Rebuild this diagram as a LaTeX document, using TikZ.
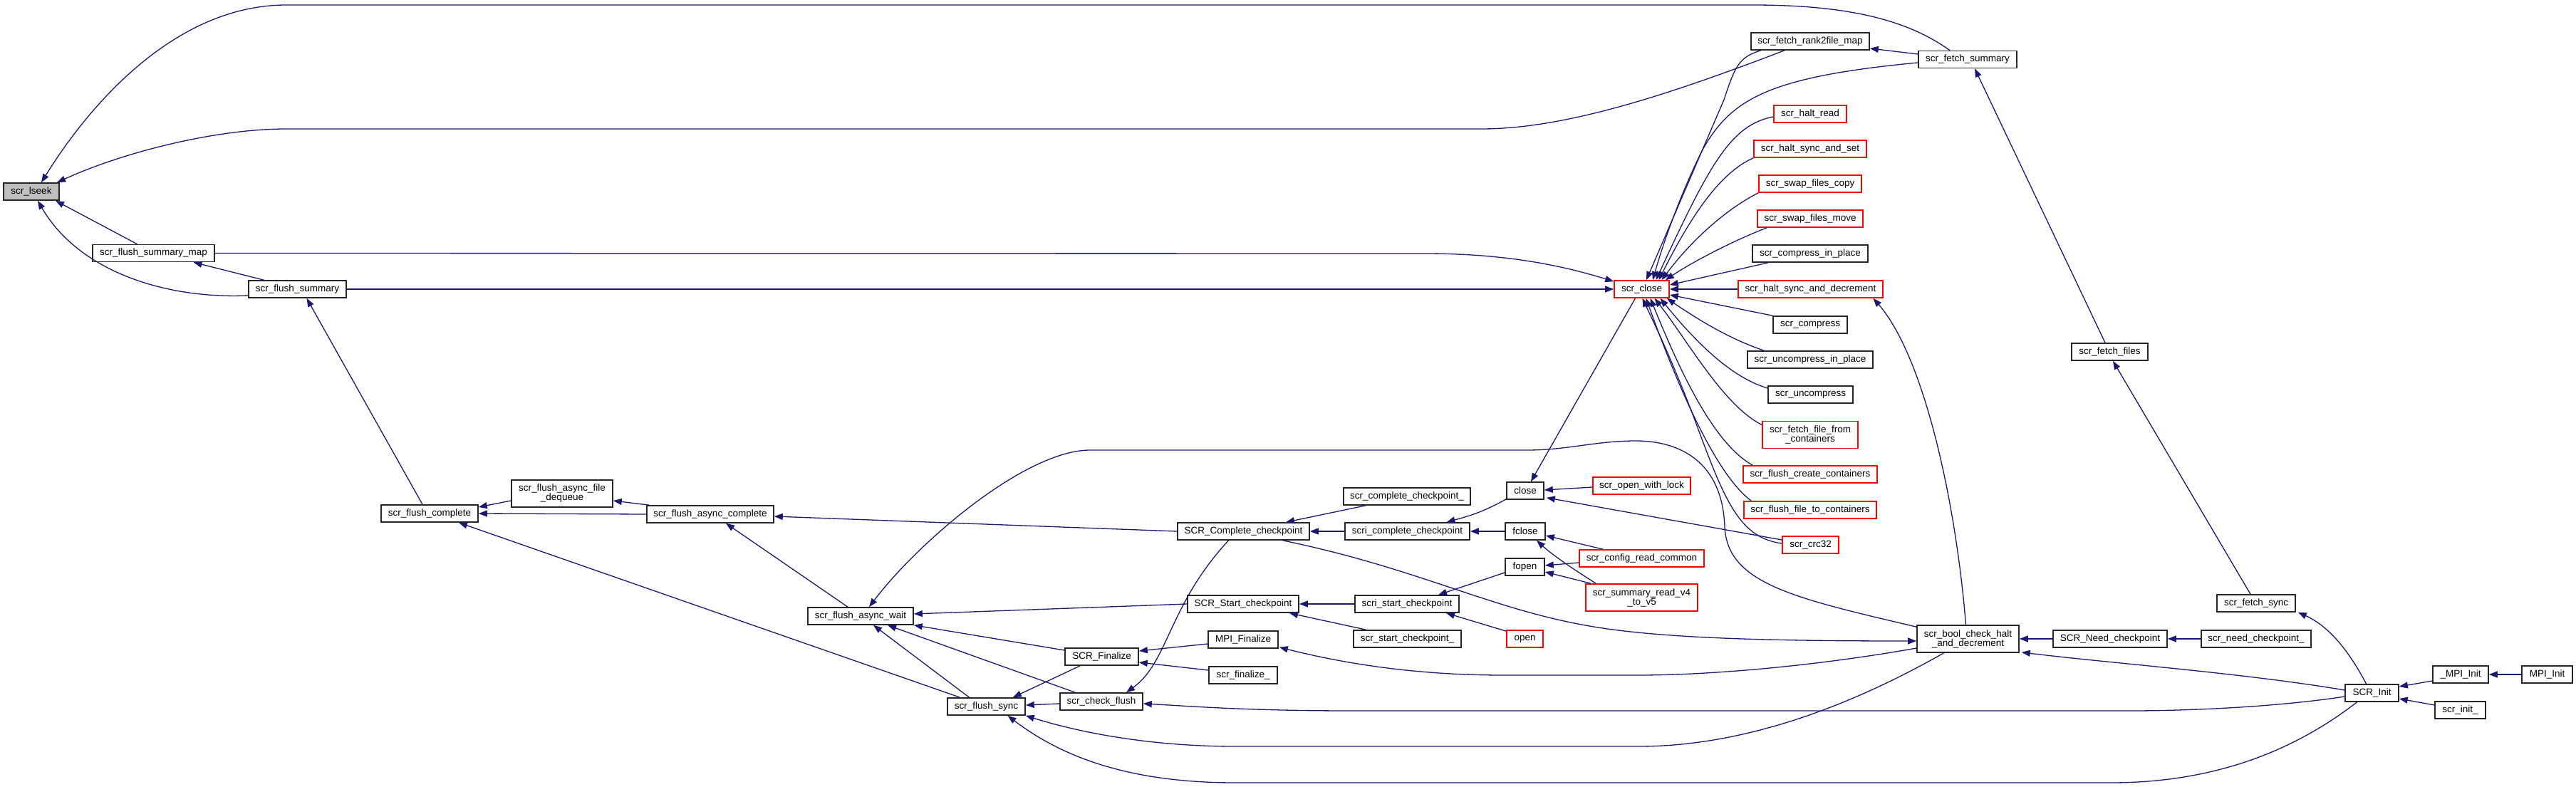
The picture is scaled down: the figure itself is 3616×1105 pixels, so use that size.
\documentclass[tikz,border=0pt]{standalone}
\usepackage{fontspec}
\setmainfont{Liberation Sans}
\usetikzlibrary{arrows.meta,calc}
\definecolor{edgec}{HTML}{191970}
\definecolor{redc}{HTML}{FF0000}
\definecolor{grayfill}{HTML}{BFBFBF}
\tikzset{
  box/.style={draw=black!85,line width=1.6pt,fill=white,minimum height=24pt,inner sep=0pt,align=center,
    font=\fontsize{13.5}{13}\selectfont},
  tall/.style={minimum height=38pt},
  redbox/.style={box,draw=redc},
  e/.style={draw=edgec,line width=1.3pt,-{Triangle[length=12pt,width=9pt]}},
}
\begin{document}
\begin{tikzpicture}[x=1pt,y=-1pt]
\useasboundingbox[fill=white] (0,0) rectangle (3616,1105);
% nodes
\node[box,fill=grayfill,minimum width=78pt] (lseek) at (44,269) {scr\_lseek};
\node[box,minimum width=171pt] (fsmap) at (215.5,355.5) {scr\_flush\_summary\_map};
\node[box,minimum width=137pt] (fsum) at (417.5,406) {scr\_flush\_summary};
\node[box,minimum width=136pt] (fcomp) at (603,721) {scr\_flush\_complete};
\node[box,tall,minimum width=142pt] (deq) at (789,693) {scr\_flush\_async\_file\\\_dequeue};
\node[box,minimum width=178pt] (acomp) at (997,722) {scr\_flush\_async\_complete};
\node[box,minimum width=148pt] (await) at (1208,865) {scr\_flush\_async\_wait};
\node[box,minimum width=109pt] (fsync) at (1384.5,992) {scr\_flush\_sync};
\node[box,minimum width=103pt] (fin) at (1546.5,922) {SCR\_Finalize};
\node[box,minimum width=116pt] (chk) at (1546,985) {scr\_check\_flush};
\node[box,minimum width=185pt] (cc) at (1745.5,746) {SCR\_Complete\_checkpoint};
\node[box,minimum width=156pt] (sc) at (1745,848) {SCR\_Start\_checkpoint};
\node[box,minimum width=98pt] (mpif) at (1745,898) {MPI\_Finalize};
\node[box,minimum width=96pt] (finu) at (1745,948) {scr\_finalize\_};
\node[box,minimum width=178pt] (ccu) at (1975,697) {scr\_complete\_checkpoint\_};
\node[box,minimum width=175pt] (scc) at (1975.5,746) {scri\_complete\_checkpoint};
\node[box,minimum width=146pt] (ssc) at (1975,848) {scri\_start\_checkpoint};
\node[box,minimum width=151pt] (scu) at (1975.5,897) {scr\_start\_checkpoint\_};
\node[box,minimum width=52pt] (close) at (2141,689) {close};
\node[box,minimum width=56pt] (fclose) at (2141,746) {fclose};
\node[box,minimum width=55pt] (fopen) at (2140.5,796) {fopen};
\node[redbox,minimum width=51pt] (open) at (2140.5,897) {open};
\node[redbox,minimum width=77pt] (sclose) at (2304.5,406) {scr\_close};
\node[redbox,minimum width=137pt] (owl) at (2304.5,682) {scr\_open\_with\_lock};
\node[redbox,minimum width=175pt] (crc) at (2304.5,784) {scr\_config\_read\_common};
\node[redbox,tall,minimum width=157pt] (srv) at (2304.5,839) {scr\_summary\_read\_v4\\\_to\_v5};
\node[box,minimum width=166pt] (r2f) at (2541,58) {scr\_fetch\_rank2file\_map};
\node[box,minimum width=138pt] (fsumm) at (2762,83.5) {scr\_fetch\_summary};
\node[redbox,minimum width=102pt] (hr) at (2541,160) {scr\_halt\_read};
\node[redbox,minimum width=158pt] (hss) at (2541,209) {scr\_halt\_sync\_and\_set};
\node[redbox,minimum width=144pt] (sfc) at (2541,258) {scr\_swap\_files\_copy};
\node[redbox,minimum width=148pt] (sfm) at (2541,307) {scr\_swap\_files\_move};
\node[box,minimum width=162pt] (cip) at (2541,356) {scr\_compress\_in\_place};
\node[redbox,minimum width=203pt] (hsd) at (2541.5,406) {scr\_halt\_sync\_and\_decrement};
\node[box,minimum width=104pt] (cmp) at (2541,456) {scr\_compress};
\node[box,minimum width=176pt] (uip) at (2541,505) {scr\_uncompress\_in\_place};
\node[box,minimum width=119pt] (unc) at (2541.5,554) {scr\_uncompress};
\node[redbox,tall,minimum width=134pt] (ffc) at (2541,610.5) {scr\_fetch\_file\_from\\\_containers};
\node[redbox,minimum width=188pt] (fcc) at (2541,666) {scr\_flush\_create\_containers};
\node[redbox,minimum width=186pt] (ftc) at (2541,716) {scr\_flush\_file\_to\_containers};
\node[redbox,minimum width=79pt] (c32) at (2541.5,765) {scr\_crc32};
\node[box,tall,minimum width=143pt] (bchk) at (2762.5,897) {scr\_bool\_check\_halt\\\_and\_decrement};
\node[box,minimum width=160pt] (need) at (2962,897) {SCR\_Need\_checkpoint};
\node[box,minimum width=154pt] (needu) at (3167,897) {scr\_need\_checkpoint\_};
\node[box,minimum width=107pt] (ffiles) at (2961.5,494) {scr\_fetch\_files};
\node[box,minimum width=110pt] (fsync2) at (3167,847) {scr\_fetch\_sync};
\node[box,minimum width=75pt] (init) at (3329.5,973) {SCR\_Init};
\node[box,minimum width=78pt] (mpiiu) at (3454,947) {\_MPI\_Init};
\node[box,minimum width=71pt] (mpii) at (3575.5,947) {MPI\_Init};
\node[box,minimum width=71pt] (initu) at (3453.5,997) {scr\_init\_};
% edges
\draw[e] ($(fsumm.north)+(-25,0)$) .. controls (2680,30) and (2600,7) .. (2460,7) -- (402,7) .. controls (250,7) and (130,140) .. ($(lseek.north)+(14,0)$);
\draw[e] ($(r2f.south)+(-36,0)$) .. controls (2350,130) and (2200,181) .. (2080,181) -- (402,181) .. controls (300,181) and (170,215) .. ($(lseek.north)+(36,0)$);
\draw[e] ($(fsmap.north)+(-23,0)$) -- ($(lseek.south)+(34,0)$);
\draw[e] ($(fsum.west)+(0,9)$) .. controls (230,420) and (110,380) .. ($(lseek.south)+(9,0)$);
\draw[e] ($(fsum.north)+(-47,0)$) -- ($(fsmap.south)+(56,0)$);
\draw[e] (fsmap.east) -- (2000,356) .. controls (2120,356) and (2200,375) .. ($(sclose.north west)+(0,2)$);
\draw[e] (fsum.east) -- (sclose.west);
\draw[e] ($(fcomp.north)+(-10,0)$) -- ($(fsum.south)+(13,0)$);
\draw[e] ($(deq.west)+(0,10)$) -- ($(fcomp.east)+(0,-9)$);
\draw[e] (acomp.west) -- (fcomp.east);
\draw[e] ($(fsync.north)+(-37,0)$) -- ($(fcomp.south)+(41,0)$);
\draw[e] ($(acomp.north west)+(4,0)$) -- ($(deq.east)+(0,10)$);
\draw[e] (cc.west) -- ($(acomp.east)+(0,3)$);
\draw[e] ($(await.north)+(-18,0)$) -- ($(acomp.south)+(22,0)$);
\draw[e] ($(bchk.north west)+(0,3)$) .. controls (2520,840) and (2425,820) .. (2421,740) .. controls (2418,650) and (2360,619) .. (2296,619) .. controls (2240,619) and (2200,632) .. (2144,632) -- (1530,632) .. controls (1440,632) and (1290,760) .. ($(await.north)+(12,0)$);
\draw[e] (sc.west) -- ($(await.east)+(0,-3)$);
\draw[e] ($(fin.west)+(0,-9)$) -- (await.south east);
\draw[e] ($(chk.north west)+(22,0)$) -- ($(await.south)+(38,0)$);
\draw[e] ($(fsync.north)+(-24,0)$) -- ($(await.south)+(18,0)$);
\draw[e] ($(fin.south west)+(22,0)$) -- ($(fsync.north east)+(-18,0)$);
\draw[e] ($(chk.west)+(0,3)$) -- ($(fsync.east)+(0,-2)$);
\draw[e] ($(bchk.south)+(-34,0)$) .. controls (2600,990) and (2450,1048) .. (2300,1048) -- (1734,1048) .. controls (1620,1048) and (1520,1030) .. (fsync.south east);
\draw[e] ($(init.west)+(0,5)$) .. controls (3200,992) and (3080,998) .. (2989,998) -- (1900,998) .. controls (1750,998) and (1680,992) .. ($(chk.east)+(0,3)$);
\draw[e] ($(cc.south)+(-21,0)$) .. controls (1640,850) and (1640,930) .. ($(chk.north)+(35,0)$);
\draw[e] ($(mpif.west)+(0,6)$) -- ($(fin.east)+(0,-8)$);
\draw[e] ($(finu.west)+(0,-7)$) -- ($(fin.east)+(0,8)$);
\draw[e] ($(bchk.west)+(0,13)$) .. controls (2550,935) and (2400,948) .. (2300,948) -- (2111,948) .. controls (2000,948) and (1900,935) .. ($(mpif.south east)+(1,-2)$);
\draw[e] (need.west) -- (bchk.east);
\draw[e] ($(init.west)+(0,-4)$) .. controls (3150,945) and (2950,930) .. ($(bchk.south east)+(3,-1)$);
\draw[e] (needu.west) -- (need.east);
\draw[e] ($(bchk.north)+(-3,0)$) .. controls (2745,700) and (2700,500) .. ($(hsd.south)+(88,0)$);
\draw[e] ($(init.north)+(-8,0)$) .. controls (3290,900) and (3260,875) .. ($(fsync2.south east)+(3,0)$);
\draw[e] ($(fsync2.north)+(-8,0)$) -- ($(ffiles.south)+(4.5,0)$);
\draw[e] ($(ffiles.north)+(-6.5,0)$) -- ($(fsumm.south)+(10,0)$);
\draw[e] ($(fsumm.west)+(0,-7.5)$) -- ($(r2f.east)+(0,10)$);
\draw[e] ($(fsumm.west)+(0,4.5)$) .. controls (2480,108) and (2430,140) .. (2390,210) .. controls (2360,270) and (2335,340) .. ($(sclose.north)+(15.5,0)$);
\draw[e] ($(r2f.south)+(-69,0)$) .. controls (2440,80) and (2435,95) .. (2420,140) -- ($(sclose.north)+(6.5,0)$);
\draw[e] ($(hr.west)+(0,4)$) .. controls (2430,175) and (2400,230) .. ($(sclose.north)+(20,0)$);
\draw[e] (hss.south west) .. controls (2420,240) and (2380,290) .. ($(sclose.north)+(24,0)$);
\draw[e] (sfc.south west) .. controls (2430,290) and (2380,330) .. ($(sclose.north)+(28,0)$);
\draw[e] ($(sfm.south west)+(14,0)$) .. controls (2440,335) and (2380,365) .. ($(sclose.north east)+(-6,0)$);
\draw[e] ($(cip.south west)+(23,0)$) -- ($(sclose.east)+(0,-6)$);
\draw[e] (hsd.west) -- (sclose.east);
\draw[e] (cmp.north west) -- ($(sclose.east)+(0,8)$);
\draw[e] ($(uip.north west)+(24,0)$) .. controls (2440,480) and (2400,460) .. ($(sclose.south east)+(-4,0)$);
\draw[e] ($(unc.west)+(0,-9)$) .. controls (2430,530) and (2380,480) .. ($(sclose.south)+(26,0)$);
\draw[e] ($(ffc.west)+(0,-14)$) .. controls (2420,570) and (2370,480) .. ($(sclose.south)+(18,0)$);
\draw[e] ($(fcc.north west)+(14,0)$) .. controls (2400,620) and (2350,500) .. ($(sclose.south)+(12,0)$);
\draw[e] ($(ftc.north west)+(11,0)$) .. controls (2400,660) and (2340,500) .. ($(sclose.south)+(6,0)$);
\draw[e] ($(c32.west)+(0,-2)$) .. controls (2440,755) and (2420,700) .. (2378,587) .. controls (2345,500) and (2320,450) .. ($(sclose.south)+(1,0)$);
\draw[e] ($(sclose.south)+(-9,0)$) -- ($(close.north)+(8,0)$);
\draw[e] ($(owl.west)+(0,2)$) -- ($(close.east)+(0,-1)$);
\draw[e] ($(c32.west)+(0,-7)$) -- ($(close.south east)+(3,-3)$);
\draw[e] ($(close.south west)+(0,-1)$) .. controls (2080,720) and (2060,725) .. ($(scc.north)+(55,0)$);
\draw[e] ($(ccu.south)+(-58,0)$) -- ($(cc.north)+(59.5,0)$);
\draw[e] (scc.west) -- (cc.east);
\draw[e] (fclose.west) -- (scc.east);
\draw[e] ($(crc.north west)+(34,0)$) -- ($(fclose.east)+(0,6)$);
\draw[e] ($(srv.north west)+(15,0)$) .. controls (2210,800) and (2180,780) .. ($(fclose.south)+(16,0)$);
\draw[e] ($(crc.west)+(0,6)$) -- ($(fopen.east)+(0,-2)$);
\draw[e] ($(srv.north west)+(8,0)$) -- ($(fopen.east)+(0,7)$);
\draw[e] ($(fopen.west)+(0,8)$) -- ($(ssc.north)+(44,0)$);
\draw[e] ($(open.north west)+(0,2)$) -- ($(ssc.south)+(55,0)$);
\draw[e] (ssc.west) -- (sc.east);
\draw[e] ($(scu.north)+(-58,0)$) -- ($(sc.south)+(65,0)$);
\draw[e] ($(mpiiu.west)+(0,9)$) -- ($(init.east)+(0,-9)$);
\draw[e] ($(initu.west)+(0,-7)$) -- ($(init.east)+(0,8)$);
\draw[e] (mpii.west) -- (mpiiu.east);
\draw[e] ($(cc.south)+(55,0)$) .. controls (2000,800) and (2100,860) .. (2250,882) .. controls (2350,897) and (2500,900) .. ($(bchk.west)+(0,3)$);
\draw[e] ($(init.south)+(-21,0)$) .. controls (3200,1070) and (3080,1099) .. (2963,1099) -- (1734,1099) .. controls (1600,1099) and (1500,1070) .. ($(fsync.south)+(30,0)$);
\end{tikzpicture}
\end{document}
